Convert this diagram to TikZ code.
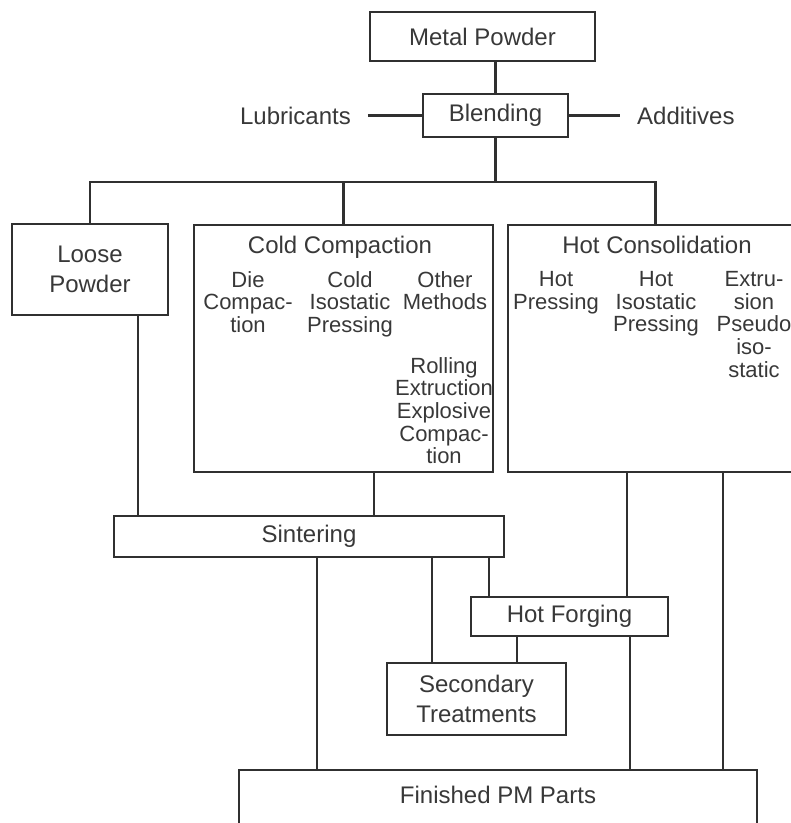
\documentclass[tikz,border=0pt]{standalone}
\usepackage{fontspec}
\setmainfont{Liberation Sans}
\usepackage{xcolor}
\usepackage{tikz}
\usetikzlibrary{positioning}
\definecolor{pmInk}{HTML}{303030}
\definecolor{pmText}{HTML}{383838}

\begin{document}
\begin{tikzpicture}[
  x=1pt, y=-1pt,
  font=\fontsize{24}{30}\selectfont,
  stage/.style={draw=pmInk, line width=2.4pt, inner sep=0pt, align=center, text=pmText},
  group/.style={stage, anchor=north},
  input/.style={text=pmText, inner sep=0pt, outer xsep=17pt},
  heading/.style={text=pmText, inner sep=0pt, anchor=base},
  note/.style={font=\fontsize{22}{22.7}\selectfont, text=pmText, align=center, inner sep=0pt, anchor=north},
  link/.style={draw=pmInk, line width=2.4pt}
]
  \clip (0,0) rectangle (791,823);

  \node[stage, minimum width=225pt, minimum height=49pt] (metal) at (482.5,36.5) {Metal Powder};
  \node[stage, minimum width=145pt, minimum height=43pt] (blend) at (495.5,115.5) {Blending};
  \node[input, left=54pt of blend] (lub) {Lubricants};
  \node[input, right=51pt of blend] (add) {Additives};

  \node[stage, minimum width=156pt, minimum height=91pt] (loose) at (90,269.5) {Loose\\Powder};
  \node[group, minimum width=299pt, minimum height=247pt] (cold) at (343.5,224) {};
  \node[group, minimum width=295pt, minimum height=247pt] (hot) at (655.5,224) {};

  % cold compaction routes
  \node[heading] (coldT) at (340,253) {Cold Compaction};
  \node[note] (die) at (248,271) {Die\\Compac-\\tion};
  \node[note] (cip) at (350,271) {Cold\\Isostatic\\Pressing};
  \node[note] (other) at (445,271) {Other\\Methods};
  \node[note] (roll) at (444,357) {Rolling\\Extruction\\Explosive\\Compac-\\tion};

  % hot consolidation routes
  \node[heading] (hotT) at (657,253) {Hot Consolidation};
  \node[note] (hp) at (556,271) {Hot\\Pressing};
  \node[note] (hip) at (656,271) {Hot\\Isostatic\\Pressing};
  \node[note] (ext) at (754,271) {Extru-\\sion\\Pseudo\\iso-\\static};

  \node[stage, minimum width=390pt, minimum height=41pt] (sinter) at (309,536.5) {Sintering};
  \node[stage, minimum width=197pt, minimum height=39pt] (forge) at (569.5,616.5) {Hot Forging};
  \node[stage, minimum width=179pt, minimum height=72pt] (second) at (476.5,699) {Secondary\\Treatments};
  \node[stage, anchor=north, minimum width=518pt, text height=17pt, text depth=20pt, inner ysep=16pt] (finish) at (498,769) {Finished PM Parts};

  \coordinate (bus) at (495.5,182);

  \draw[link] (metal.south -| blend.north) -- (blend.north);
  \draw[link] (lub.east) -- (blend.west);
  \draw[link] (blend.east) -- (add.west);
  \draw[link] (blend.south) -- (bus);
  \draw[link] (loose.north) |- (bus) -| (hot.north);
  \draw[link] (cold.north) -- (cold.north |- bus);

  \draw[link] ([xshift=48pt]loose.south) -- ([xshift=48pt]loose.south |- sinter.north);
  \draw[link] ([xshift=30.5pt]cold.south) -- ([xshift=30.5pt]cold.south |- sinter.north);
  \draw[link] ([xshift=8pt]sinter.south) -- ([xshift=8pt]sinter.south |- finish.north);
  \draw[link] ([xshift=-44.5pt]second.north |- sinter.south) -- ([xshift=-44.5pt]second.north);
  \draw[link] ([xshift=-80.5pt]forge.north |- sinter.south) -- ([xshift=-80.5pt]forge.north);
  \draw[link] ([xshift=57.5pt]forge.north |- hot.south) -- ([xshift=57.5pt]forge.north);
  \draw[link] ([xshift=225pt]finish.north |- hot.south) -- ([xshift=225pt]finish.north);
  \draw[link] ([xshift=40.5pt]second.north |- forge.south) -- ([xshift=40.5pt]second.north);
  \draw[link] ([xshift=60.5pt]forge.south) -- ([xshift=60.5pt]forge.south |- finish.north);
\end{tikzpicture}
\end{document}
